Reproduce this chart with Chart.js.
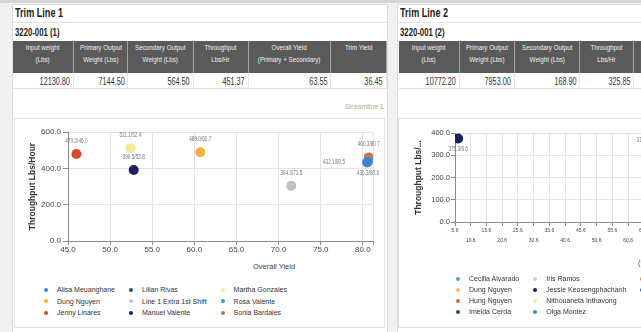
<!DOCTYPE html>
<html>
<head>
<meta charset="utf-8">
<title>Trim Lines</title>
<script src="https://cdn.jsdelivr.net/npm/chart.js@4.4.1/dist/chart.umd.min.js"></script>
<style>
    html, body { margin: 0; padding: 0; }
    body {
        width: 641px; height: 332px; overflow: hidden; position: relative;
        background: #f1f1f1; color: #222;
        font-family: 'Liberation Sans', Arial, sans-serif;
    }
    .topbar { position: absolute; left: 0; top: 0; width: 641px; height: 3px; background: #d4d4d4; }
    .panel { position: absolute; top: 4px; width: 374px; height: 340px; background: #fff; border: 1px solid #dadada; }
    .ptitle { position: absolute; left: 2px; top: 0; font-weight: bold; font-size: 13px; line-height: 16px;
              transform: scaleX(.7); transform-origin: left; white-space: nowrap; }
    .rule { position: absolute; left: 0; right: 0; top: 17px; height: 1px; background: #e4e4e4; }
    .sub { position: absolute; left: 2px; top: 21px; font-weight: bold; font-size: 10.5px; line-height: 13px;
           transform: scaleX(.74); transform-origin: left; white-space: nowrap; }
    table.totals { position: absolute; top: 36px; border-collapse: collapse; table-layout: fixed; }
    table.totals th {
        height: 31px; padding: 1px 0 0 0; vertical-align: top; background: #5a5a5a; color: #f2f2f2;
        font-weight: normal; font-size: 8px; line-height: 12px; border-right: 1px solid #a5a5a5; overflow: hidden;
    }
    table.totals td {
        height: 15px; padding: 0 3px 0 0; text-align: right; font-size: 11px; color: #333;
        border-right: 1px solid #e6e6e6; border-bottom: 1px solid #e2e2e2; white-space: nowrap; overflow: hidden;
    }
    .hd { display: inline-block; transform: scaleX(.78); transform-origin: center; white-space: nowrap; }
    .val { display: inline-block; transform: scaleX(.66); transform-origin: right; }
    .stream { position: absolute; right: 3px; top: 98px; font-size: 7px; color: #a7b766; }
    .chartbox { position: absolute; left: 1px; top: 113px; width: 371px; height: 210px; box-sizing: border-box;
                border: 1px solid #e2e2e2; background: #fff; }
    .chartbox canvas { position: absolute; left: 0; top: 0; }
    .xtitle { position: absolute; font-size: 7.5px; color: #444; white-space: nowrap; }
    .legend { position: absolute; display: grid; grid-auto-flow: column; grid-auto-columns: max-content;
              column-gap: 14px; font-size: 7px; color: #333; }
    .legend div { display: flex; align-items: center; height: 11.5px; white-space: nowrap; }
    .legend span.dot { width: 4px; height: 4px; border-radius: 50%; margin-right: 9px; flex: none; }
</style>
</head>
<body>
<div class="topbar"></div>

<div class="panel" style="left:12px">
    <div class="ptitle">Trim Line 1</div>
    <div class="rule"></div>
    <div class="sub">3220-001 (1)</div>
    <table class="totals" id="totals1" style="left:0"></table>
    <div class="stream">Streamline 1</div>
    <div class="chartbox">
        <canvas id="scatter1" width="369" height="140"></canvas>
        <div class="xtitle" style="left:238px; top:143px">Overall Yield</div>
        <div class="legend" id="legend1" style="left:29px; top:165px; grid-template-rows: repeat(3, 11.5px)"></div>
    </div>
</div>

<div class="panel" style="left:397px">
    <div class="ptitle">Trim Line 2</div>
    <div class="rule"></div>
    <div class="sub">3220-001 (2)</div>
    <table class="totals" id="totals2" style="left:1px"></table>
    <div class="stream">Streamline 2</div>
    <div class="chartbox" style="left:0">
        <canvas id="scatter2" width="369" height="140"></canvas>
        <div class="xtitle" style="left:239px; top:139px">(Overall Yield)</div>
        <div class="legend" id="legend2" style="left:57px; top:154px; grid-template-rows: repeat(4, 11px)"></div>
    </div>
</div>

<script>
// totals table
const totalHeaders = [
    ['Input weight', '(Lbs)'],
    ['Primary Output', 'Weight (Lbs)'],
    ['Secondary Output', 'Weight (Lbs)'],
    ['Throughput', 'Lbs/Hr'],
    ['Overall Yield', '(Primary + Secondary)'],
    ['Trim Yield']
];
const line1Totals = ['12130.80', '7144.50', '564.50', '451.37', '63.55', '36.45'];
const line2Totals = ['10772.20', '7953.00', '168.90', '325.85', '75.40', '24.60'];
const line1ColWidths = [62, 52, 60, 57, 82, 59];
const line2ColWidths = [63, 51, 62, 56, 82, 59];

// Trim Line 1 operators, legend order (column by column)
const line1Operators = ['Alisa Meuanghane', 'Dung Nguyen', 'Jenny Linares', 'Lilian Rivas', 'Line 1 Extra 1st Shift',
    'Manuel Valente', 'Martha Gonzales', 'Rosa Valente', 'Sonia Bardales'];
const line1Colors = ['#3d82d6', '#f2b23a', '#d9462b', '#1f5566', '#c2c2c2', '#17235c', '#f4eb96', '#2aa3c4', '#cc7050'];
const line1Yield = [80.5, 60.7, 46.0, null, 71.5, 52.8, 52.4, 80.6, 80.7];
const line1Throughput = [432.1, 489.0, 479.2, null, 304.3, 390.5, 511.1, 436.3, 460.3];
const line1YieldTicks = [45, 50, 55, 60, 65, 70, 75, 80];
const line1ThroughputTicks = [0, 200, 400, 600];

// Trim Line 2 operators
const line2Operators = ['Cecilia Alvarado', 'Dung Nguyen', 'Hung Nguyen', 'Imelda Cerda', 'Iris Ramos',
    'Jessie Keosengphachanh', 'Nithouaneta Inthavong', 'Olga Montez', 'Rosa Valente', 'Sonia Bardales'];
const line2Colors = ['#5b9bd5', '#f2c04e', '#c9693c', '#1f4e5f', '#cfcfcf', '#17235c', '#f5ed9e', '#3a8fd8', '#d38c3e', '#2a55c0'];
const line2Yield = [null, null, null, null, null, 6.6, null, null, 66.9, null];
const line2Throughput = [null, null, null, null, null, 375.3, null, null, 310.4, null];
const line2YieldTicks = [5.6, 10.6, 15.6, 20.6, 25.6, 30.6, 35.6, 40.6, 45.6, 50.6,
    55.6, 60.6, 65.6, 70.6, 75.6, 80.6, 85.6, 90.6, 95.6, 100.6];
const line2ThroughputTicks = [0, 100, 200, 300, 400];

const FONT = "'Liberation Sans', Arial, sans-serif";
Chart.defaults.font.family = FONT;
Chart.defaults.color = '#444';

function buildTotals(tableId, totals, widths) {
    const table = document.getElementById(tableId);
    let head = '<tr>';
    totalHeaders.forEach((lines, i) => {
        head += '<th style="width:' + widths[i] + 'px"><span class="hd">' + lines.join('<br>') + '</span></th>';
    });
    head += '</tr><tr>';
    totals.forEach(v => {
        head += '<td><span class="val">' + v + '</span></td>';
    });
    table.innerHTML = head + '</tr>';
}

function buildLegend(legendId, names, colors) {
    const legend = document.getElementById(legendId);
    names.forEach((name, i) => {
        const item = document.createElement('div');
        item.innerHTML = '<span class="dot" style="background:' + colors[i] + '"></span>' + name;
        legend.appendChild(item);
    });
}

function makeDatasets(names, colors, xs, ys) {
    return names.map((name, i) => ({
        label: name,
        data: xs[i] === null ? [] : [{ x: xs[i], y: ys[i] }],
        backgroundColor: colors[i],
        borderColor: colors[i],
        borderWidth: 0,
        pointRadius: 5,
        pointHoverRadius: 5
    }));
}

// writes "throughput/yield" next to each point
const pointLabelPlugin = {
    id: 'pointLabels',
    afterDatasetsDraw(chart, args, opts) {
        const ctx = chart.ctx;
        ctx.save();
        ctx.font = opts.size + 'px ' + FONT;
        ctx.fillStyle = '#777';
        ctx.textBaseline = 'middle';
        chart.data.datasets.forEach((ds, i) => {
            chart.getDatasetMeta(i).data.forEach((pt, j) => {
                const d = ds.data[j];
                const text = d.y.toFixed(1) + '/' + d.x.toFixed(1);
                const place = opts.place[i] || 'top';
                let x = pt.x, y = pt.y - 13;
                ctx.textAlign = 'center';
                if (place === 'bottom') y = pt.y + 11;
                if (place === 'left') { x = pt.x - 22; y = pt.y; ctx.textAlign = 'right'; }
                ctx.save();
                ctx.translate(x, y);
                ctx.scale(0.72, 1);
                ctx.fillText(text, 0, 0);
                ctx.restore();
            });
        });
        ctx.restore();
    }
};

function plotLine1() {
    const ctx = document.getElementById('scatter1').getContext('2d');
    new Chart(ctx, {
        type: 'scatter',
        data: { datasets: makeDatasets(line1Operators, line1Colors, line1Yield, line1Throughput) },
        plugins: [pointLabelPlugin],
        options: {
            responsive: false,
            animation: false,
            layout: { padding: { top: 13, right: 11, left: 0, bottom: 0 } },
            plugins: {
                legend: { display: false },
                tooltip: { enabled: false },
                pointLabels: { size: 6.5, place: { 0: 'left', 7: 'bottom' } }
            },
            scales: {
                x: {
                    type: 'linear',
                    min: 45,
                    max: 81.2,
                    afterBuildTicks: scale => {
                        scale.ticks = line1YieldTicks.concat([scale.max]).map(v => ({ value: v }));
                    },
                    afterFit: scale => { scale.height = 18; },
                    ticks: {
                        autoSkip: false, maxRotation: 0, padding: 0,
                        font: { size: 8 }, color: '#444',
                        callback: value => line1YieldTicks.includes(value) ? value.toFixed(1) : ''
                    },
                    grid: { color: '#e4e4e4', tickColor: '#8c8c8c', tickLength: 4 },
                    border: { color: '#8c8c8c' }
                },
                y: {
                    min: 0,
                    max: 600,
                    afterBuildTicks: scale => {
                        scale.ticks = line1ThroughputTicks.map(v => ({ value: v }));
                    },
                    afterFit: scale => { scale.width = 53; },
                    title: {
                        display: true, text: 'Throughput Lbs/Hour', color: '#333',
                        font: { size: 8.5, weight: 'bold' }, padding: { top: 13, bottom: 0 }
                    },
                    ticks: {
                        padding: 2, font: { size: 8 }, color: '#444',
                        callback: value => value.toFixed(1)
                    },
                    grid: { color: '#e4e4e4', tickColor: '#8c8c8c', tickLength: 5 },
                    border: { color: '#8c8c8c' }
                }
            }
        }
    });
}

function plotLine2() {
    const ctx = document.getElementById('scatter2').getContext('2d');
    new Chart(ctx, {
        type: 'scatter',
        data: { datasets: makeDatasets(line2Operators, line2Colors, line2Yield, line2Throughput) },
        plugins: [pointLabelPlugin],
        options: {
            responsive: false,
            animation: false,
            layout: { padding: { top: 14, right: 14, left: 0, bottom: 0 } },
            plugins: {
                legend: { display: false },
                tooltip: { enabled: false },
                pointLabels: { size: 6.5, place: { 5: 'bottom', 8: 'top' } }
            },
            scales: {
                x: {
                    type: 'linear',
                    min: 5.6,
                    max: 100.6,
                    afterBuildTicks: scale => {
                        scale.ticks = line2YieldTicks.map(v => ({ value: v }));
                    },
                    afterFit: scale => { scale.height = 37; },
                    ticks: {
                        autoSkip: false, maxRotation: 0, padding: 0,
                        font: { size: 5, lineHeight: 2 }, color: '#444',
                        // alternate labels between two rows
                        callback: (value, index) => index % 2 === 0 ? [value.toFixed(1), ''] : ['', value.toFixed(1)]
                    },
                    grid: { color: '#e4e4e4', tickColor: '#8c8c8c', tickLength: 4 },
                    border: { color: '#8c8c8c' }
                },
                y: {
                    min: 0,
                    max: 400,
                    afterBuildTicks: scale => {
                        scale.ticks = line2ThroughputTicks.map(v => ({ value: v }));
                    },
                    afterFit: scale => { scale.width = 56; },
                    title: {
                        display: true, text: 'Throughput Lbs/...', color: '#333',
                        font: { size: 8.5, weight: 'bold' }, padding: { top: 15, bottom: 0 }
                    },
                    ticks: {
                        padding: 1, font: { size: 7.5 }, color: '#444',
                        callback: value => value.toFixed(1)
                    },
                    grid: { color: '#e4e4e4', tickColor: '#8c8c8c', tickLength: 4 },
                    border: { color: '#8c8c8c' }
                }
            }
        }
    });
}

buildTotals('totals1', line1Totals, line1ColWidths);
buildTotals('totals2', line2Totals, line2ColWidths);
buildLegend('legend1', line1Operators, line1Colors);
buildLegend('legend2', line2Operators, line2Colors);
plotLine1();
plotLine2();
</script>
</body>
</html>
